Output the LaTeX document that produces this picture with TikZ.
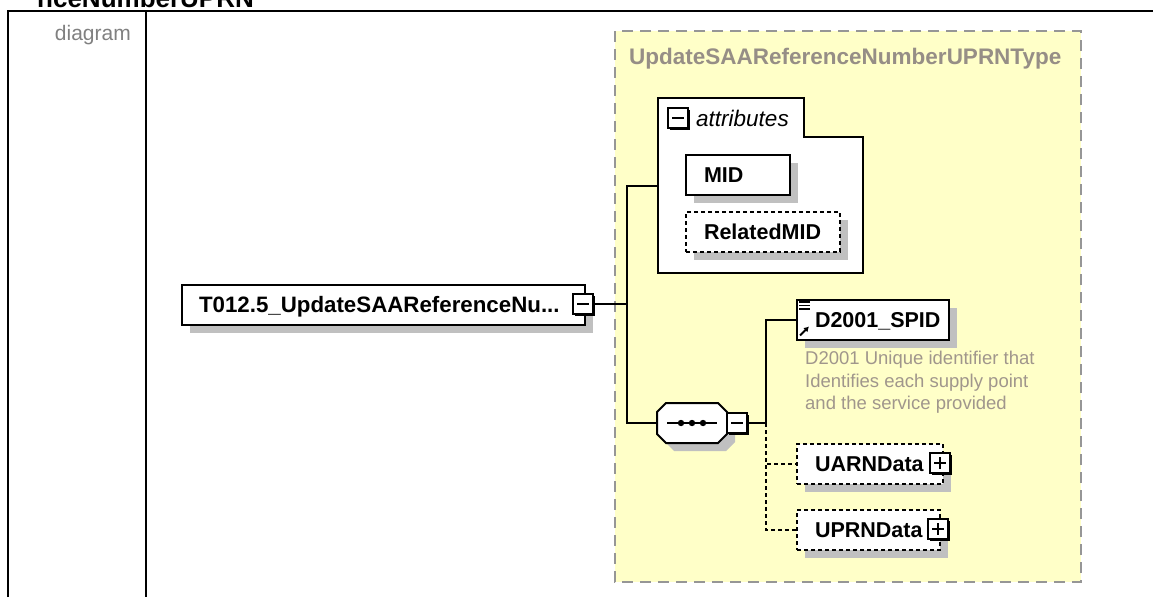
\documentclass[tikz,border=0pt]{standalone}
\usepackage{fontspec}
\setmainfont{Liberation Sans}
\usetikzlibrary{shadows,arrows.meta,calc}
\definecolor{ylw}{RGB}{255,255,200}
\definecolor{frame}{RGB}{150,150,150}
\definecolor{typegray}{RGB}{150,142,134}
\definecolor{descgray}{RGB}{160,150,140}
\definecolor{lblgray}{RGB}{128,128,128}
\definecolor{shgray}{RGB}{192,192,192}
\tikzset{
  elbox/.style={draw, line width=2pt, fill=white, anchor=north west,
    inner xsep=18pt, inner ysep=0pt, minimum height=40pt, align=left,
    text height=15.4pt, text depth=0pt,
    font=\bfseries\fontsize{21.5}{22}\selectfont,
    general shadow={fill=shgray, shadow xshift=8pt, shadow yshift=-8pt}},
  optbox/.style={elbox, dash pattern=on 4pt off 3pt},
  pmbox/.style={draw, line width=1.8pt, fill=white, minimum size=20pt, inner sep=0pt,
    general shadow={fill=black, shadow xshift=2pt, shadow yshift=-2pt}},
  conn/.style={line width=2pt},
  optconn/.style={line width=2pt, dash pattern=on 4pt off 3pt},
  sign/.style={line width=1.8pt},
}
\begin{document}
\begin{tikzpicture}[x=1pt,y=-1pt]
\useasboundingbox (0,0) rectangle (1153,597);
% header and table
\node[anchor=base west, inner sep=0pt, font=\bfseries\fontsize{26}{26}\selectfont] (hdr) at (37,7.5) {nceNumberUPRN};
\draw[line width=2.5pt] (8,597) -- (8,11) -- (1153,11);
\draw[line width=2.5pt] (146,11) -- (146,597);
\node[anchor=east, inner sep=0pt, text=lblgray, font=\fontsize{21}{21}\selectfont] (lbl) at (131,35) {diagram};
% complex type region
\draw[fill=ylw, draw=frame, line width=2pt, dash pattern=on 11pt off 7pt] (615,31) rectangle (1081,582);
\node[anchor=west, inner sep=0pt, text=typegray, font=\bfseries\fontsize{22.5}{22.5}\selectfont] (tname) at (629,59) {UpdateSAAReferenceNumberUPRNType};
% attributes box
\draw[line width=2pt, fill=white] (658,98) -- (804,98) -- (804,137) -- (863,137) -- (863,273) -- (658,273) -- cycle;
\coordinate (attrsW) at (658,186);
\node[pmbox] (attrminus) at (678,118) {};
\draw[sign] ($(attrminus.center)+(-6,0)$) -- ($(attrminus.center)+(6,0)$);
\node[anchor=west, inner sep=0pt, font=\itshape\fontsize{22.5}{22.5}\selectfont] (attrlbl) at (696,118) {attributes};
\node[elbox, text width=68pt] (mid) at (685,154) {MID};
\node[optbox, text width=118pt] (relmid) at (685,211) {\mbox{RelatedMID}};
% main element
\node[elbox, text width=369pt, inner xsep=17pt, font=\bfseries\fontsize{22.3}{22}\selectfont] (main) at (181,284) {\mbox{T012.5\_UpdateSAAReferenceNu...}};
\node[pmbox] (mainminus) at (583,304) {};
\draw[sign] ($(mainminus.center)+(-6,0)$) -- ($(mainminus.center)+(6,0)$);
\coordinate (j1) at (627,304);
% sequence compositor
\fill[shgray] (674,411) -- (726,411) -- (735,420) -- (735,442) -- (726,451) -- (674,451) -- (665,442) -- (665,420) -- cycle;
\draw[line width=2pt, fill=white] (666,403) -- (718,403) -- (727,412) -- (727,434) -- (718,443) -- (666,443) -- (657,434) -- (657,412) -- cycle;
\coordinate (seqW) at (657,423);
\coordinate (seqC) at (692,423);
\draw[line width=2pt] ($(seqC)+(-25,0)$) -- ($(seqC)+(25,0)$);
\foreach \dx in {-11,0,11} \fill ($(seqC)+(\dx,0)$) circle (3.2pt);
\node[pmbox] (seqminus) at (737,423) {};
\draw[sign] ($(seqminus.center)+(-6,0)$) -- ($(seqminus.center)+(6,0)$);
\coordinate (j2) at (766,423);
% connectors
\draw[conn] (mainminus.east) -- (j1);
\draw[conn] (attrsW) -| (j1) |- (seqW);
\draw[conn] (seqminus.east) -- (j2);
% children
\node[elbox, text width=116pt] (spid) at (796,299) {\mbox{D2001\_SPID}};
\draw[conn] (j2) |- (spid.west);
\foreach \dy in {302,305.5,309} \draw[line width=1.3pt] (799,\dy) -- (810,\dy);
\draw[line width=2pt, -{Latex[length=5pt,width=6pt]}] (800,335.5) -- (809,326.5);
\node[anchor=north west, inner sep=0pt, align=left, text=descgray,
  font=\fontsize{18.5}{22.5}\selectfont] (desc) at (805,351) {D2001 Unique identifier that\\Identifies each supply point\\and the service provided};
\node[optbox, text width=110pt] (uarn) at (796,443) {\mbox{UARNData}};
\node[pmbox] (uarnplus) at (940,463) {};
\draw[sign] ($(uarnplus.center)+(-6,0)$) -- ($(uarnplus.center)+(6,0)$);
\draw[sign] ($(uarnplus.center)+(0,-6)$) -- ($(uarnplus.center)+(0,6)$);
\node[optbox, text width=107pt] (uprn) at (796,509) {\mbox{UPRNData}};
\node[pmbox] (uprnplus) at (938,529) {};
\draw[sign] ($(uprnplus.center)+(-6,0)$) -- ($(uprnplus.center)+(6,0)$);
\draw[sign] ($(uprnplus.center)+(0,-6)$) -- ($(uprnplus.center)+(0,6)$);
\draw[optconn] (j2) |- (uarn.west);
\draw[optconn] (j2) |- (uprn.west);
\end{tikzpicture}
\end{document}
